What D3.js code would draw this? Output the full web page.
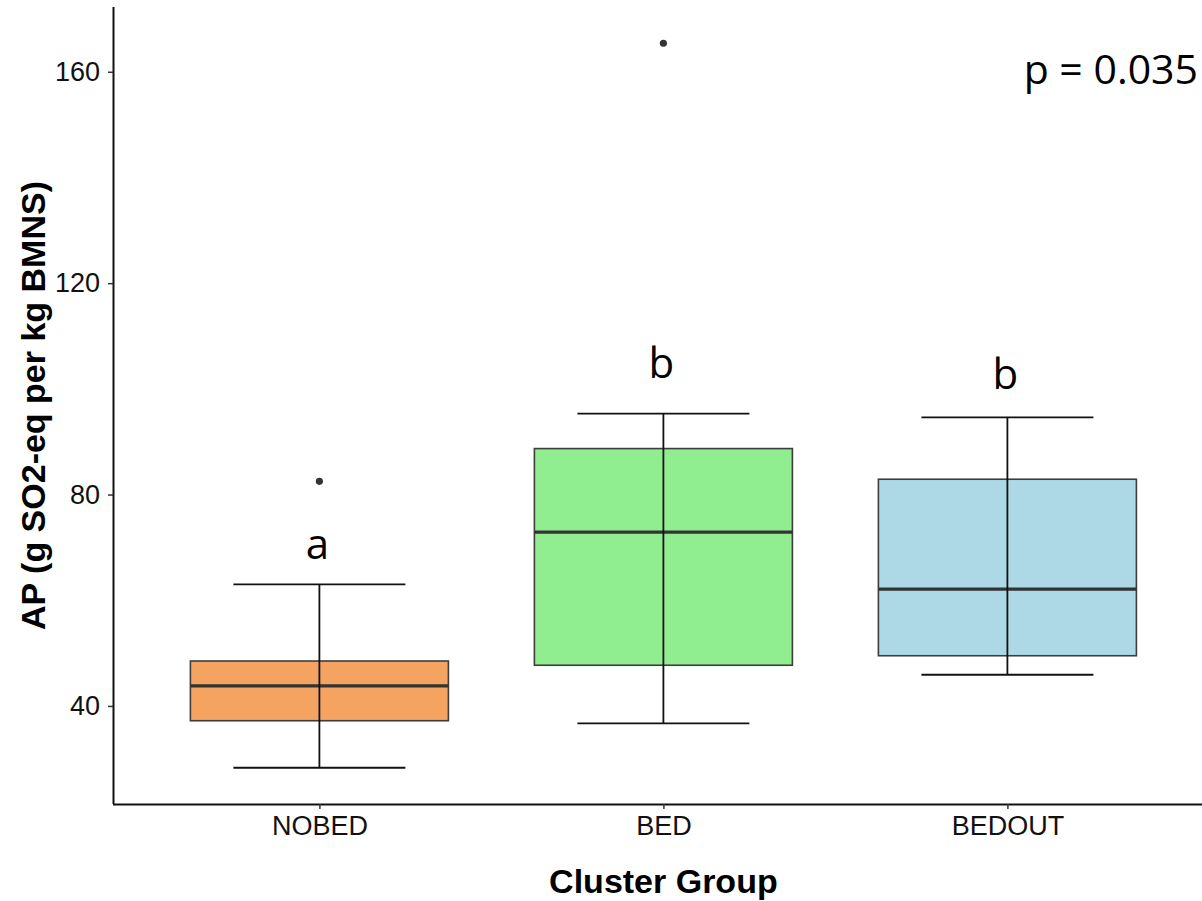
<!DOCTYPE html>
<html>
<head>
<meta charset="utf-8">
<script src="https://cdn.jsdelivr.net/npm/d3@7"></script>
<style>
  html, body { margin: 0; padding: 0; background: #fff; overflow: hidden; }
  svg { display: block; }
</style>
</head>
<body>
<svg id="chart" width="1202" height="901"></svg>
<script>
// Cluster groups and their box-plot summaries (g SO2-eq per kg BMNS)
const groups     = ["NOBED", "BED", "BEDOUT"];
const fills      = ["#F4A460", "#90EE90", "#ADD8E6"];
const lowerWhisk = [28.3, 36.7, 45.9];
const q1         = [37.2, 47.7, 49.5];
const medians    = [43.8, 72.9, 62.1];
const q3         = [48.5, 88.7, 82.9];
const upperWhisk = [63.0, 95.3, 94.6];
const outliers   = [[82.5], [165.4], []];

// Compact letter display above each group
const letters   = ["a", "b", "b"];
const letterY   = [67.8, 102.0, 100.0];
const pLabel    = "p = 0.035";
const pLabelY   = 160;

const yTicks = [40, 80, 120, 160];

const svg = d3.select("#chart");

// Panel: discrete x axis with 0.6 expansion on each side, continuous y with 5% padding
const panel = { left: 113, top: 7, bottom: 804 };
const step = 344;
const x = d3.scalePoint()
  .domain(groups)
  .range([panel.left + 0.6 * step, panel.left + 2.6 * step]);
const dataMin = d3.min(lowerWhisk);
const dataMax = d3.max(outliers.flat().concat(upperWhisk));
const pad = (dataMax - dataMin) * 0.05;
const y = d3.scaleLinear()
  .domain([dataMin - pad, dataMax + pad])
  .range([panel.bottom, panel.top]);

const boxW = 0.75 * step;
const capW = 0.5 * step;

const rows = groups.map((g, i) => ({
  g, fill: fills[i], lo: lowerWhisk[i], q1: q1[i], med: medians[i],
  q3: q3[i], hi: upperWhisk[i], out: outliers[i]
}));

// Boxes
const boxes = svg.append("g");
boxes.selectAll("rect").data(rows).join("rect")
  .attr("x", d => x(d.g) - boxW / 2)
  .attr("width", boxW)
  .attr("y", d => y(d.q3))
  .attr("height", d => y(d.q1) - y(d.q3))
  .attr("fill", d => d.fill)
  .attr("stroke", "#3d3d3d")
  .attr("stroke-width", 1.6);

// Medians
boxes.selectAll("line.med").data(rows).join("line")
  .attr("class", "med")
  .attr("x1", d => x(d.g) - boxW / 2)
  .attr("x2", d => x(d.g) + boxW / 2)
  .attr("y1", d => y(d.med))
  .attr("y2", d => y(d.med))
  .attr("stroke", "#333")
  .attr("stroke-width", 3.2);

// Outliers
svg.append("g").selectAll("circle")
  .data(rows.flatMap(d => d.out.map(v => ({ g: d.g, v }))))
  .join("circle")
  .attr("cx", d => x(d.g))
  .attr("cy", d => y(d.v))
  .attr("r", 3.6)
  .attr("fill", "#333");

// Error-bar whiskers drawn over the boxes
const eb = svg.append("g").attr("stroke", "#111").attr("stroke-width", 1.8);
eb.selectAll("line.v").data(rows).join("line")
  .attr("class", "v")
  .attr("x1", d => x(d.g)).attr("x2", d => x(d.g))
  .attr("y1", d => y(d.lo)).attr("y2", d => y(d.hi));
eb.selectAll("line.top").data(rows).join("line")
  .attr("class", "top")
  .attr("x1", d => x(d.g) - capW / 2).attr("x2", d => x(d.g) + capW / 2)
  .attr("y1", d => y(d.hi)).attr("y2", d => y(d.hi));
eb.selectAll("line.bot").data(rows).join("line")
  .attr("class", "bot")
  .attr("x1", d => x(d.g) - capW / 2).attr("x2", d => x(d.g) + capW / 2)
  .attr("y1", d => y(d.lo)).attr("y2", d => y(d.lo));

// Axes
const yAxis = svg.append("g")
  .attr("transform", `translate(${panel.left},0)`)
  .call(d3.axisLeft(y).tickValues(yTicks).tickSize(5).tickPadding(8).tickSizeOuter(0));
const xAxis = svg.append("g")
  .attr("transform", `translate(0,${panel.bottom})`)
  .call(d3.axisBottom(x).tickSize(5).tickPadding(7).tickSizeOuter(0));
xAxis.select(".domain").attr("d", `M${panel.left},0.5H${panel.left + 3.2 * step}`);
yAxis.select(".domain").attr("d", `M0.5,${panel.top}V${panel.bottom}`);
[xAxis, yAxis].forEach(a => {
  a.select(".domain").attr("stroke", "#111").attr("stroke-width", 2);
  a.selectAll(".tick line").attr("stroke", "#333").attr("stroke-width", 1.5);
  a.selectAll(".tick text")
    .attr("fill", "#111")
    .style("font-family", "'Liberation Sans', Arial, sans-serif")
    .style("font-size", "27px");
});

// Axis titles
svg.append("text")
  .attr("x", x("BED"))
  .attr("y", 893)
  .attr("text-anchor", "middle")
  .style("font-family", "'Liberation Sans', Arial, sans-serif")
  .style("font-weight", "bold")
  .style("font-size", "34px")
  .attr("fill", "#000")
  .text("Cluster Group");

svg.append("text")
  .attr("transform", `translate(45,${(panel.top + panel.bottom) / 2}) rotate(-90)`)
  .attr("text-anchor", "middle")
  .style("font-family", "'Liberation Sans', Arial, sans-serif")
  .style("font-weight", "bold")
  .style("font-size", "34px")
  .attr("fill", "#000")
  .text("AP (g SO2-eq per kg BMNS)");

// Significance letters
svg.append("g").selectAll("text").data(groups).join("text")
  .attr("x", g => x(g) - 2)
  .attr("y", (g, i) => y(letterY[i]))
  .attr("text-anchor", "middle")
  .style("font-family", "'Open Sans', sans-serif")
  .style("font-size", "42px")
  .attr("fill", "#000")
  .text((g, i) => letters[i]);

// Overall test result
svg.append("text")
  .attr("x", 1198)
  .attr("y", y(pLabelY) + 12)
  .attr("text-anchor", "end")
  .style("font-family", "'Open Sans', sans-serif")
  .style("font-size", "41px")
  .attr("fill", "#000")
  .text(pLabel);
</script>
</body>
</html>
